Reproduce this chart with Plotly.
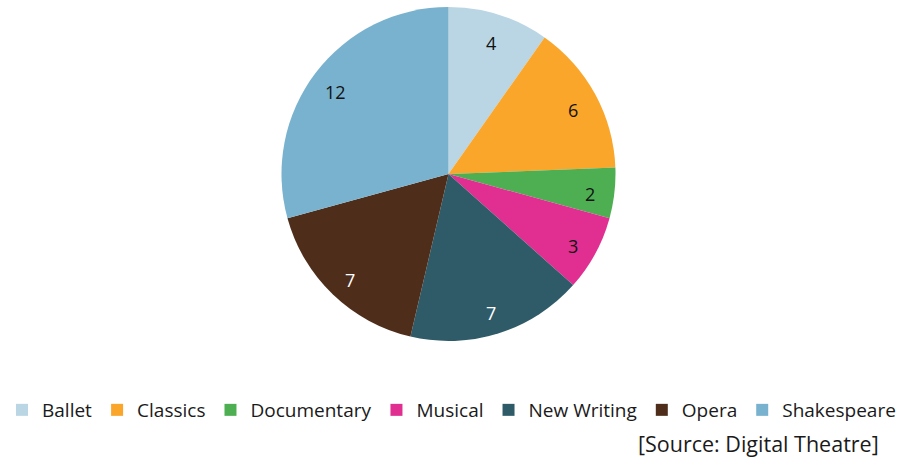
import math
import plotly.graph_objects as go

categories = ["Ballet", "Classics", "Documentary", "Musical", "New Writing", "Opera", "Shakespeare"]
values = [4, 6, 2, 3, 7, 7, 12]
colors = ["#BAD6E4", "#F9A62B", "#4EAF52", "#E02F91", "#2F5B69", "#4E2D1A", "#78B2CF"]
text_colors = ["#111111", "#111111", "#111111", "#111111", "#FFFFFF", "#FFFFFF", "#111111"]
source = "[Source: Digital Theatre]"

FONT = "Open Sans, Lato, sans-serif"
W, H = 903, 459
cx, cy, r = 448.5, 174, 167
label_frac = 0.85
label_dy = 4

fig = go.Figure(go.Pie(
    labels=categories,
    values=values,
    sort=False,
    direction="clockwise",
    rotation=0,
    marker=dict(colors=colors, line=dict(width=0)),
    textinfo="none",
    domain=dict(x=[(cx - r) / W, (cx + r) / W], y=[(H - cy - r) / H, (H - cy + r) / H]),
    hoverinfo="label+value",
))

# value labels placed along each slice's bisector, derived from the data
total = sum(values)
annotations = []
cum = 0
for v, tc in zip(values, text_colors):
    mid = (cum + v / 2) / total * 2 * math.pi
    cum += v
    px = cx + label_frac * r * math.sin(mid)
    py = cy - label_frac * r * math.cos(mid) + label_dy
    annotations.append(dict(
        text=str(v), x=px / W, y=(H - py) / H, xref="paper", yref="paper",
        xanchor="center", yanchor="middle", showarrow=False,
        font=dict(family=FONT, size=18, color=tc),
    ))

annotations.append(dict(
    text=source, x=881 / W, xanchor="right", y=(H - 443) / H, yanchor="middle",
    xref="paper", yref="paper", showarrow=False,
    font=dict(family=FONT, size=21.5, color="#1a1a1a"),
))

fig.update_layout(
    width=W, height=H,
    margin=dict(l=0, r=0, t=0, b=0),
    paper_bgcolor="white",
    plot_bgcolor="white",
    font=dict(family=FONT, color="#1a1a1a"),
    showlegend=True,
    legend=dict(
        orientation="h",
        x=0.5, xanchor="center",
        y=(H - 410) / H, yanchor="middle",
        font=dict(family=FONT, size=19, color="#1a1a1a"),
        itemwidth=30,
        tracegroupgap=0,
    ),
    annotations=annotations,
)

fig.write_html("out.html")
